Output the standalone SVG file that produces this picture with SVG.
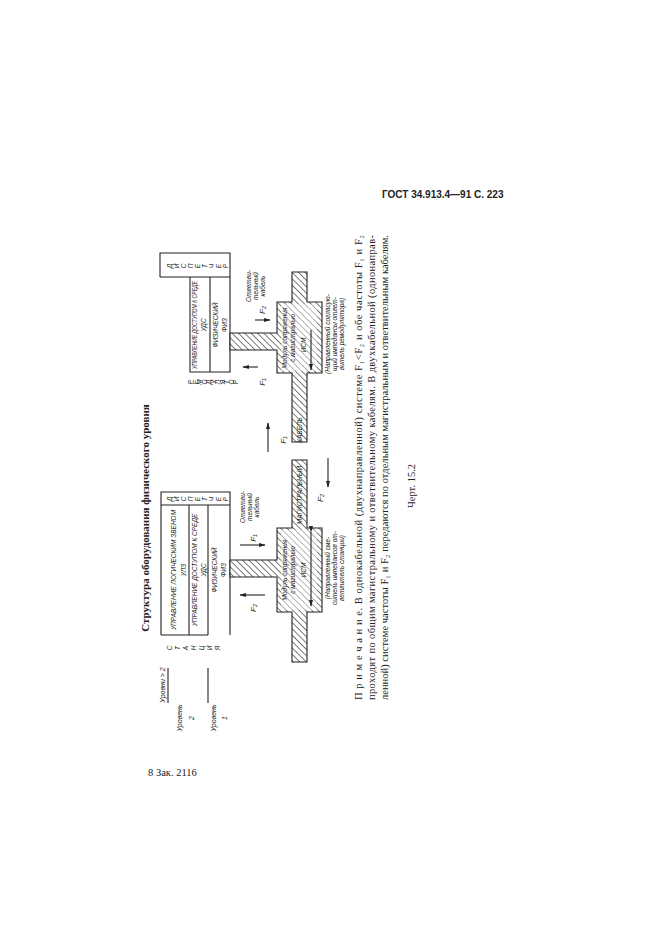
<svg xmlns="http://www.w3.org/2000/svg" width="661" height="935" viewBox="0 0 661 935">
<defs>
<pattern id="h" width="4.5" height="4.5" patternUnits="userSpaceOnUse" patternTransform="rotate(-45)"><rect width="4.5" height="4.5" fill="#fff"/><line x1="0" y1="0" x2="0" y2="4.5" stroke="#222" stroke-width="1.2"/></pattern>
<marker id="a" viewBox="0 0 10 10" refX="9" refY="5" markerWidth="6" markerHeight="6" orient="auto"><path d="M0,2 L10,5 L0,8 Z" fill="#222"/></marker>
<style>
text{font-family:"Liberation Sans",sans-serif;fill:#222}
.s{font-style:italic;font-size:6.5px}
.n{font-family:"Liberation Serif",serif;font-size:10.5px}
.t{font-family:"Liberation Serif",serif;font-size:11px;font-weight:bold}
.ln{stroke:#222;stroke-width:1.1;fill:none}
.cab{fill:url(#h);stroke:#222;stroke-width:1.1}
</style>
</defs>
<rect width="661" height="935" fill="#fff"/>
<text x="382" y="198" style="font-size:10px;font-weight:bold">ГОСТ 34.913.4—91  С. 223</text>
<text x="148" y="776" class="n">8 Зак. 2116</text>
<text class="t" transform="translate(149,518) rotate(-90)" text-anchor="middle">Структура оборудования физического уровня</text>

<g id="levels">
<text class="s" transform="translate(165,685) rotate(-90)" text-anchor="middle" style="font-size:7px">Уровни &gt; 2</text>
<line class="ln" x1="168" y1="668" x2="168" y2="703"/>
<text class="s" transform="translate(182,718) rotate(-90)" text-anchor="middle" style="font-size:7px">Уровень</text>
<text class="s" transform="translate(194,718) rotate(-90)" text-anchor="middle" style="font-size:7px">2</text>
<line class="ln" x1="208" y1="668" x2="208" y2="703"/>
<text class="s" transform="translate(216,718) rotate(-90)" text-anchor="middle" style="font-size:7px">Уровень</text>
<text class="s" transform="translate(227,718) rotate(-90)" text-anchor="middle" style="font-size:7px">1</text>
</g>

<g id="station">
<path class="ln" d="M161,635 L161,492 L230,492 L230,635 M161,505 L230,505 M189,505 L189,635 M208,505 L208,635 M161,635 L208,635"/>
<text class="s" transform="translate(176,570) rotate(-90)" text-anchor="middle">УПРАВЛЕНИЕ ЛОГИЧЕСКИМ ЗВЕНОМ</text>
<text class="s" transform="translate(186,570) rotate(-90)" text-anchor="middle">УЛЗ</text>
<text class="s" transform="translate(197,570) rotate(-90)" text-anchor="middle">УПРАВЛЕНИЕ ДОСТУПОМ К СРЕДЕ</text>
<text class="s" transform="translate(206,570) rotate(-90)" text-anchor="middle">УДС</text>
<text class="s" transform="translate(217,570) rotate(-90)" text-anchor="middle">ФИЗИЧЕСКИЙ</text>
<text class="s" transform="translate(226,570) rotate(-90)" text-anchor="middle">ФИЗ</text>
<g class="s">
<text transform="translate(172,499) rotate(-90)" text-anchor="middle">Д</text>
<text transform="translate(179,499) rotate(-90)" text-anchor="middle">И</text>
<text transform="translate(186,499) rotate(-90)" text-anchor="middle">С</text>
<text transform="translate(193,499) rotate(-90)" text-anchor="middle">П</text>
<text transform="translate(200,499) rotate(-90)" text-anchor="middle">Е</text>
<text transform="translate(207,499) rotate(-90)" text-anchor="middle">Т</text>
<text transform="translate(214,499) rotate(-90)" text-anchor="middle">Ч</text>
<text transform="translate(221,499) rotate(-90)" text-anchor="middle">Е</text>
<text transform="translate(228,499) rotate(-90)" text-anchor="middle">Р</text>
<text transform="translate(172,648) rotate(-90)" text-anchor="middle">С</text>
<text transform="translate(180,648) rotate(-90)" text-anchor="middle">Т</text>
<text transform="translate(188,648) rotate(-90)" text-anchor="middle">А</text>
<text transform="translate(196,648) rotate(-90)" text-anchor="middle">Н</text>
<text transform="translate(204,648) rotate(-90)" text-anchor="middle">Ц</text>
<text transform="translate(212,648) rotate(-90)" text-anchor="middle">И</text>
<text transform="translate(220,648) rotate(-90)" text-anchor="middle">Я</text>
</g>
</g>

<g id="remodulator">
<path class="ln" d="M160,277 L160,253 L230,253 L230,372 L190,372 L190,277 M160,277 L230,277 M210,277 L210,372"/>
<text class="s" transform="translate(197,325) rotate(-90)" text-anchor="middle" textLength="88" lengthAdjust="spacingAndGlyphs">УПРАВЛЕНИЕ ДОСТУПОМ К СРЕДЕ</text>
<text class="s" transform="translate(206,325) rotate(-90)" text-anchor="middle">УДС</text>
<text class="s" transform="translate(218,325) rotate(-90)" text-anchor="middle">ФИЗИЧЕСКИЙ</text>
<text class="s" transform="translate(227,325) rotate(-90)" text-anchor="middle">ФИЗ</text>
<g class="s">
<text transform="translate(172,266) rotate(-90)" text-anchor="middle">Д</text>
<text transform="translate(179,266) rotate(-90)" text-anchor="middle">И</text>
<text transform="translate(186,266) rotate(-90)" text-anchor="middle">С</text>
<text transform="translate(193,266) rotate(-90)" text-anchor="middle">П</text>
<text transform="translate(200,266) rotate(-90)" text-anchor="middle">Е</text>
<text transform="translate(207,266) rotate(-90)" text-anchor="middle">Т</text>
<text transform="translate(214,266) rotate(-90)" text-anchor="middle">Ч</text>
<text transform="translate(221,266) rotate(-90)" text-anchor="middle">Е</text>
<text transform="translate(228,266) rotate(-90)" text-anchor="middle">Р</text>
<text transform="translate(193,382) rotate(-90)" text-anchor="middle">Р</text>
<text transform="translate(197.5,382) rotate(-90)" text-anchor="middle">Е</text>
<text transform="translate(202,382) rotate(-90)" text-anchor="middle">М</text>
<text transform="translate(206.5,382) rotate(-90)" text-anchor="middle">О</text>
<text transform="translate(211,382) rotate(-90)" text-anchor="middle">Д</text>
<text transform="translate(215.5,382) rotate(-90)" text-anchor="middle">У</text>
<text transform="translate(220,382) rotate(-90)" text-anchor="middle">Л</text>
<text transform="translate(224.5,382) rotate(-90)" text-anchor="middle">Я</text>
<text transform="translate(229,382) rotate(-90)" text-anchor="middle">Т</text>
<text transform="translate(233.5,382) rotate(-90)" text-anchor="middle">О</text>
<text transform="translate(238,382) rotate(-90)" text-anchor="middle">Р</text>
</g>
</g>

<g id="cable">
<path class="cab" d="M292,272 L307,272 L307,302 L322,302 L322,373 L307,373 L307,442 L292,442 L292,373 L277,373 L277,350 L230,350 L230,333 L277,333 L277,302 L292,302 Z"/>
<path class="cab" d="M292,460 L307,460 L307,528 L322,528 L322,612 L307,612 L307,662 L292,662 L292,612 L277,612 L277,577 L230,577 L230,560 L277,560 L277,528 L292,528 Z"/>
<rect x="281" y="304" width="36" height="67" fill="#fff" fill-opacity="0.45"/>
<rect x="281" y="530" width="36" height="80" fill="#fff" fill-opacity="0.45"/>
<text class="s" transform="translate(287,338) rotate(-90)" text-anchor="middle">Модуль сопряжения</text>
<text class="s" transform="translate(295,338) rotate(-90)" text-anchor="middle">с магистралью</text>
<text class="s" transform="translate(306,345) rotate(-90)" text-anchor="middle">ИСМ</text>
<line class="ln" x1="311" y1="330" x2="311" y2="370" marker-end="url(#a)"/>
<text class="s" transform="translate(302,430) rotate(-90)" text-anchor="middle">КАБЕЛЬ</text>
<text class="s" transform="translate(302,495) rotate(-90)" text-anchor="middle">МАГИСТРАЛЬНЫЙ</text>
<text class="s" transform="translate(287,570) rotate(-90)" text-anchor="middle">Модуль сопряжения</text>
<text class="s" transform="translate(295,570) rotate(-90)" text-anchor="middle">с магистралью</text>
<text class="s" transform="translate(306,570) rotate(-90)" text-anchor="middle">ИСМ</text>
<line class="ln" x1="311" y1="532" x2="311" y2="606" marker-end="url(#a)" marker-start="url(#a)"/>
</g>

<g id="connectors">
<line class="ln" x1="240" y1="545" x2="265" y2="545" marker-end="url(#a)"/>
<line class="ln" x1="265" y1="595" x2="240" y2="595" marker-end="url(#a)"/>
<line class="ln" x1="255" y1="320" x2="270" y2="320" marker-end="url(#a)"/>
<line class="ln" x1="258" y1="367" x2="243" y2="367" marker-end="url(#a)"/>
<line class="ln" x1="268" y1="452" x2="268" y2="423" marker-end="url(#a)"/>
<line class="ln" x1="328" y1="458" x2="328" y2="487" marker-end="url(#a)"/>
</g>

<g id="labels">
<text class="s" transform="translate(256,538) rotate(-90)" style="font-size:8px" text-anchor="middle">F₁</text>
<text class="s" transform="translate(256,608) rotate(-90)" style="font-size:8px" text-anchor="middle">F₂</text>
<text class="s" transform="translate(265,310) rotate(-90)" style="font-size:8px" text-anchor="middle">F₂</text>
<text class="s" transform="translate(265,382) rotate(-90)" style="font-size:8px" text-anchor="middle">F₁</text>
<text class="s" transform="translate(286,440) rotate(-90)" style="font-size:8px" text-anchor="middle">F₁</text>
<text class="s" transform="translate(323,498) rotate(-90)" style="font-size:8px" text-anchor="middle">F₂</text>
<text class="s" transform="translate(245,507) rotate(-90)" text-anchor="middle">Ответви-</text>
<text class="s" transform="translate(252,507) rotate(-90)" text-anchor="middle">тельный</text>
<text class="s" transform="translate(259,507) rotate(-90)" text-anchor="middle">кабель</text>
<text class="s" transform="translate(251,286) rotate(-90)" text-anchor="middle">Ответви-</text>
<text class="s" transform="translate(258,286) rotate(-90)" text-anchor="middle">тельный</text>
<text class="s" transform="translate(265,286) rotate(-90)" text-anchor="middle">кабель</text>
<text class="s" transform="translate(330,568) rotate(-90)" text-anchor="middle">(Направленный сме-</text>
<text class="s" transform="translate(337,568) rotate(-90)" text-anchor="middle">ситель импедансов от-</text>
<text class="s" transform="translate(344,568) rotate(-90)" text-anchor="middle">ветвитель станции)</text>
<text class="s" transform="translate(330,334) rotate(-90)" text-anchor="middle">(Направленный согласую-</text>
<text class="s" transform="translate(337,334) rotate(-90)" text-anchor="middle">щий импедансы ответ-</text>
<text class="s" transform="translate(344,334) rotate(-90)" text-anchor="middle">витель ремодулятора)</text>
</g>

<g id="note">
<text class="n" transform="translate(362,700) rotate(-90)" textLength="465">П р и м е ч а н и е. В однокабельной (двухнаправленной) системе F₁&lt;F₂ и обе частоты F₁ и F₂</text>
<text class="n" transform="translate(375,700) rotate(-90)" textLength="465">проходят по общим магистральному и ответвительному кабелям. В двухкабельной (однонаправ-</text>
<text class="n" transform="translate(388,700) rotate(-90)" textLength="465">ленной) системе частоты F₁ и F₂ передаются по отдельным магистральным и ответвительным кабелям.</text>
<text class="n" transform="translate(415,486) rotate(-90)" text-anchor="middle">Черт. 15.2</text>
</g>
</svg>
